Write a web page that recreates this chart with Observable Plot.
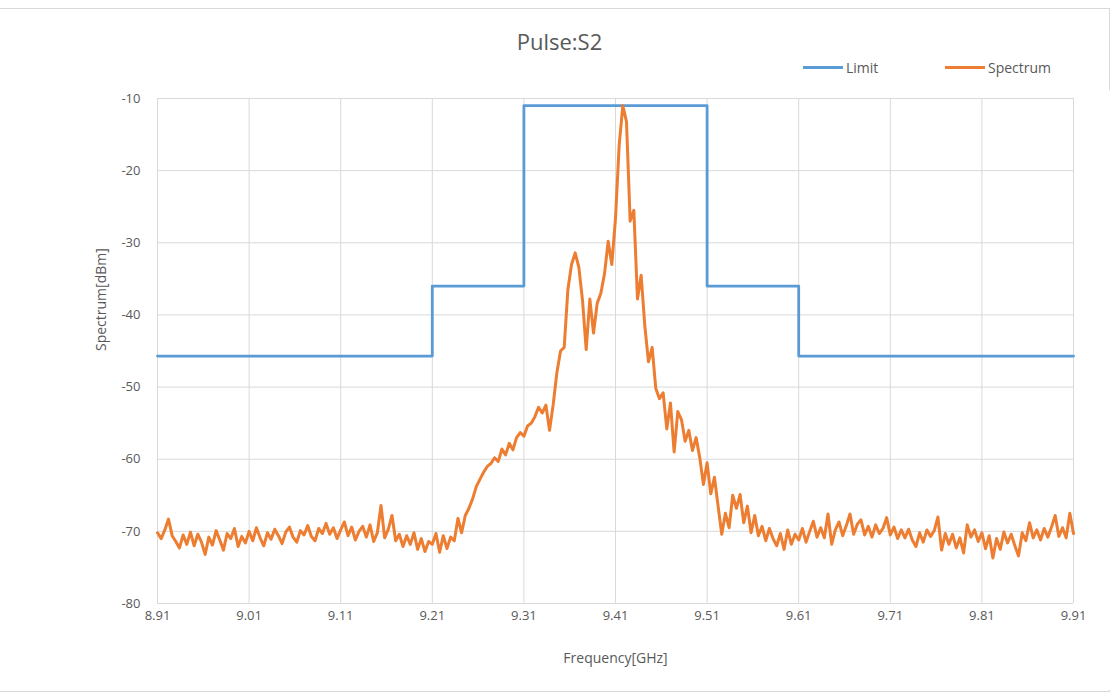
<!DOCTYPE html>
<html>
<head>
<meta charset="utf-8">
<script src="https://cdn.jsdelivr.net/npm/d3@7"></script>
<script src="https://cdn.jsdelivr.net/npm/@observablehq/plot@0.6"></script>
<style>
  body { margin: 0; background: #fff; font-family: "Open Sans", sans-serif; }
  #wrap { position: relative; width: 1119px; height: 697px; overflow: hidden; }
  #frame { position: absolute; left: -1px; top: 8px; width: 1109px; height: 682px; border: 1px solid #d9d9d9; pointer-events: none; }
  #head { position: relative; height: 90px; }
  #title { position: absolute; top: 26px; left: 0; width: 1119px; text-align: center; font-size: 22px; color: #595959; }
  .leg { position: absolute; top: 57px; font-size: 14px; color: #595959; display: flex; align-items: center; height: 20px; }
  .sw { display: inline-block; width: 40px; height: 3px; margin-right: 3px; }
  #chart { position: absolute; top: 90px; left: 0; }
</style>
</head>
<body>
<div id="wrap">
  <div id="frame"></div>
  <div id="head">
    <div id="title"></div>
    <div class="leg" id="leg1" style="left:803px"><span class="sw" style="background:#5b9bd5"></span><span id="lt1"></span></div>
    <div class="leg" id="leg2" style="left:945px"><span class="sw" style="background:#ed7d31"></span><span id="lt2"></span></div>
  </div>
  <div id="chart"></div>
</div>
<script>
const chartTitle = "Pulse:S2";
const seriesNames = ["Limit", "Spectrum"];
const xLabel = "Frequency[GHz]";
const yLabel = "Spectrum[dBm]";
const xTicks = [8.91, 9.01, 9.11, 9.21, 9.31, 9.41, 9.51, 9.61, 9.71, 9.81, 9.91];
const yTicks = [-80, -70, -60, -50, -40, -30, -20, -10];

// Limit mask (step)
const limitFreq = [8.91, 9.21, 9.31, 9.51, 9.61, 9.91];
const limitLevel = [-45.7, -36, -11, -36, -45.7, -45.7];

// Spectrum samples: start 8.91 GHz, step 0.004 GHz
const specStart = 8.91;
const specStep = 0.004;
const spectrum = [
  -70.2,-71.0,-69.8,-68.3,-70.6,-71.4,-72.3,-70.5,-71.8,-70.1,
  -72.0,-70.4,-71.5,-73.2,-70.8,-71.9,-69.9,-71.2,-72.6,-70.3,
  -71.0,-69.6,-72.1,-70.7,-71.6,-70.0,-71.3,-69.5,-70.9,-72.0,
  -70.2,-71.1,-69.7,-70.6,-71.7,-70.1,-69.4,-70.8,-71.5,-69.9,
  -70.5,-69.2,-70.7,-71.3,-69.6,-70.3,-68.9,-70.4,-69.5,-71.0,
  -69.8,-68.7,-70.6,-69.4,-71.2,-70.0,-69.3,-70.8,-69.1,-71.4,
  -70.2,-66.4,-70.9,-69.7,-67.8,-71.3,-70.4,-72.1,-70.6,-71.8,
  -70.2,-72.5,-71.0,-72.8,-71.4,
  -71.8,-70.3,-72.9,-70.6,-72.4,-70.8,-71.3,-68.2,-70.2,-67.8,
  -66.8,-65.5,-63.8,-62.8,-61.8,-61.0,-60.6,-59.8,-60.3,-58.6,
  -59.4,-57.8,-58.7,-57.0,-56.3,
  -56.8,-55.4,-55.0,-54.1,-52.8,-53.6,-52.5,-56.0,-52.4,-48.0,
  -45.0,-44.5,-36.5,-33.0,-31.4,-33.4,-38.0,-44.8,-37.8,-42.5,
  -38.4,-37.0,-34.3,-29.8,-33.0,-26.6,-16.5,-11.0,-13.2,-27.0,
  -25.5,-37.8,-34.5,-41.5,-46.5,-44.5,-50.2,-51.6,-50.8,-55.8,
  -52.2,-59.0,-53.4,-54.5,-57.5,-56.0,-58.8,-57.0,-59.8,-63.5,
  -60.5,-64.8,-62.5,-66.5,-70.4,-67.5,-69.5,-65.0,-66.8,-64.9,
  -68.8,-66.5,-70.2,-67.8,-70.6,-69.3,-71.3,-69.6,-71.0,-72.0,
  -70.3,-72.5,-69.8,-71.8,-70.4,
  -71.2,-69.6,-71.5,-70.0,-68.6,-70.8,-69.5,-70.9,-67.6,-71.8,
  -69.8,-68.7,-70.6,-69.2,-67.6,-70.4,-69.0,-68.4,-70.5,-69.3,
  -70.8,-69.1,-70.3,-69.6,-68.1,-70.5,-69.4,-71.0,-69.8,-70.9,
  -69.7,-71.2,-72.1,-70.2,-71.5,-69.8,-70.7,-69.9,-68.0,-72.6,
  -70.3,-71.8,-70.4,-72.3,-70.9,-73.0,-69.1,-70.8,-69.8,-71.4,
  -70.2,-72.4,-70.6,-73.7,-71.0,-72.5,-70.1,-71.6,-70.4,-72.0,
  -73.4,-70.2,-71.3,-68.8,-70.9,-69.8,-71.2,-69.6,-70.8,-69.4,
  -67.8,-70.7,-69.5,-70.9,-67.5,-70.3
];

const limitData = limitFreq.map((f, i) => ({f, v: limitLevel[i]}));
const specData = spectrum.map((v, i) => ({f: +(specStart + i * specStep).toFixed(4), v}));

document.getElementById("title").textContent = chartTitle;
document.getElementById("lt1").textContent = seriesNames[0];
document.getElementById("lt2").textContent = seriesNames[1];

const chart = Plot.plot({
  width: 1119,
  height: 600,
  marginLeft: 157,
  marginRight: 46,
  marginTop: 8,
  marginBottom: 87,
  style: {fontFamily: "'Open Sans', sans-serif", fontSize: "13px", color: "#595959", background: "white", overflow: "visible"},
  x: {domain: [8.91, 9.91]},
  y: {domain: [-80, -10]},
  marks: [
    Plot.gridX(xTicks, {stroke: "#d9d9d9", strokeOpacity: 1, strokeWidth: 1}),
    Plot.gridY(yTicks, {stroke: "#d9d9d9", strokeOpacity: 1, strokeWidth: 1}),
    Plot.axisX(xTicks, {tickSize: 0, tickPadding: 7, tickFormat: d => d.toFixed(2), label: null, fill: "#595959"}),
    Plot.axisY(yTicks, {tickSize: 0, tickPadding: 17, tickFormat: d => String(d), label: null, fill: "#595959"}),
    Plot.line(limitData, {x: "f", y: "v", curve: "step-after", stroke: "#5b9bd5", strokeWidth: 2.8, strokeLinejoin: "round"}),
    Plot.line(specData, {x: "f", y: "v", stroke: "#ed7d31", strokeWidth: 3, strokeLinejoin: "round"}),
    Plot.text([xLabel], {text: d => d, frameAnchor: "bottom", dy: 59, fontSize: 14, fill: "#595959"}),
    Plot.text([yLabel], {text: d => d, frameAnchor: "left", dx: -56, rotate: -90, fontSize: 14, fill: "#595959"})
  ]
});
document.getElementById("chart").appendChild(chart);
</script>
</body>
</html>
